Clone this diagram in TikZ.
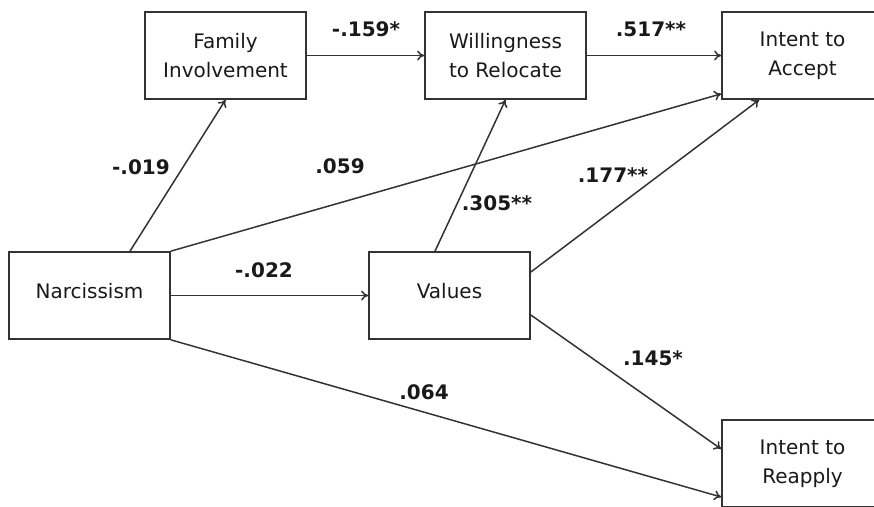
\documentclass[tikz,border=0pt]{standalone}
\usepackage{fontspec}
\setmainfont{DejaVu Sans}
\usetikzlibrary{arrows.meta}
\begin{document}
\begin{tikzpicture}[x=1pt,y=-1pt,
  varbox/.style={draw=black!80,line width=1.7pt,minimum width=161pt,minimum height=87pt,
    inner sep=0pt,align=center,font=\fontsize{20}{29}\selectfont,text=black!90},
  path/.style={draw=black!80,line width=1.5pt,-{To[length=7pt,width=10pt]}},
  coef/.style={font=\fontsize{20}{22}\selectfont\bfseries,text=black!90,inner sep=0pt}]
  \useasboundingbox (0,0) rectangle (874,506);
  \clip (0,0) rectangle (874,506);

  % variables
  \node[varbox] (fam) at (225.5,55.5) {Family\\Involvement};
  \node[varbox] (wil) at (505.5,55.5) {Willingness\\to Relocate};
  \node[varbox] (acc) at (802.5,55.5) {Intent to\\Accept};
  \node[varbox,text depth=10pt] (nar) at (89.5,295.5) {Narcissism};
  \node[varbox,text depth=10pt] (val) at (449.5,295.5) {Values};
  \node[varbox] (rea) at (802.5,463.5) {Intent to\\Reapply};

  % paths
  \draw[path] (fam.east) -- (wil.west);
  \draw[path] (wil.east) -- (acc.west);
  \draw[path] ([xshift=40.5pt]nar.north) -- (fam.south);
  \draw[path] (nar.north east) -- ([yshift=6pt]acc.south west);
  \draw[path] (nar.east) -- (val.west);
  \draw[path] (nar.south east) -- ([yshift=-33.5pt]rea.west);
  \draw[path] ([xshift=-14.5pt]val.north) -- (wil.south);
  \draw[path] ([yshift=23.5pt]val.east) -- ([xshift=38pt]acc.south west);
  \draw[path] ([yshift=-19.5pt]val.east) -- ([yshift=14.5pt]rea.west);

  % path coefficients
  \node[coef] (c1) at (366,29) {-.159*};
  \node[coef] (c2) at (651,29) {.517**};
  \node[coef] (c3) at (141,167) {-.019};
  \node[coef] (c4) at (340,166) {.059};
  \node[coef] (c5) at (497,203) {.305**};
  \node[coef] (c6) at (613,175) {.177**};
  \node[coef] (c7) at (264,270) {-.022};
  \node[coef] (c8) at (653,358) {.145*};
  \node[coef] (c9) at (424,392) {.064};
\end{tikzpicture}
\end{document}
